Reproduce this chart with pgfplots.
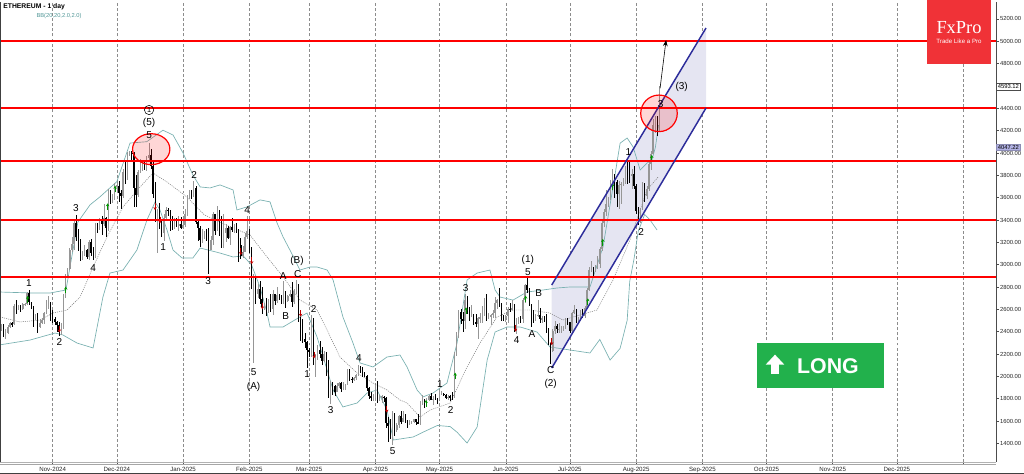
\documentclass[border=0pt]{standalone}
\usepackage{pgfplots}
\pgfplotsset{compat=1.18}
\usepackage{pgfplotstable}
\usepackage{fontspec}
\setmainfont{Liberation Sans}
\newfontfamily\fxserif{Liberation Serif}
\usetikzlibrary{arrows.meta}
\definecolor{bbteal}{RGB}{120,176,176}
\definecolor{bbtext}{RGB}{80,150,150}
\definecolor{chanblue}{RGB}{45,45,155}
\definecolor{chanfill}{RGB}{229,229,242}
\definecolor{fxred}{RGB}{240,50,55}
\definecolor{longgreen}{RGB}{34,177,76}
\definecolor{upgray}{RGB}{150,150,150}
\definecolor{sigreen}{RGB}{0,150,0}
\definecolor{sigred}{RGB}{190,0,0}
\definecolor{tagblue}{RGB}{176,176,226}

\pgfplotstableread{
d o h l c
-24 2440 2470 2410 2440
-23 2440 2465 2350 2370
-22 2370 2420 2330 2385
-21 2385 2460 2380 2438
-20 2438 2485 2430 2476
-19 2476 2490 2440 2468
-18 2468 2650 2460 2630
-17 2630 2685 2555 2605
-16 2605 2640 2590 2612
-15 2612 2635 2580 2604
-14 2604 2660 2595 2645
-13 2645 2660 2630 2648
-12 2648 2755 2640 2745
-11 2745 2770 2640 2665
-10 2665 2670 2600 2622
-9 2622 2630 2440 2525
-8 2525 2560 2505 2535
-7 2535 2570 2390 2440
-6 2440 2510 2430 2480
-5 2480 2520 2465 2507
-4 2507 2580 2470 2567
-3 2567 2680 2560 2640
-2 2640 2720 2600 2658
-1 2658 2670 2500 2518
0 2518 2590 2480 2512
1 2512 2530 2460 2490
2 2490 2500 2400 2457
3 2457 2490 2360 2400
4 2400 2480 2370 2427
5 2427 2740 2420 2722
6 2722 2920 2700 2895
7 2895 2970 2880 2962
8 2962 3150 2950 3127
9 3127 3250 3110 3182
10 3182 3400 3130 3370
11 3370 3445 3210 3245
12 3245 3320 3120 3187
13 3187 3230 3030 3058
14 3058 3120 3040 3091
15 3091 3180 3080 3130
16 3130 3140 3050 3073
17 3073 3220 3040 3205
18 3205 3230 3080 3105
19 3105 3160 3040 3071
20 3071 3370 3060 3355
21 3355 3370 3280 3325
22 3325 3420 3310 3392
23 3392 3440 3270 3362
24 3362 3540 3350 3415
25 3415 3430 3250 3325
26 3325 3680 3300 3650
27 3650 3665 3540 3580
28 3580 3630 3550 3593
29 3593 3730 3580 3704
30 3704 3730 3640 3707
31 3707 3750 3560 3644
32 3644 3670 3500 3618
33 3618 3860 3600 3830
34 3830 3940 3720 3785
35 3785 4010 3760 3995
36 3995 4020 3970 4002
37 4002 4020 3930 3995
38 3995 4010 3520 3688
39 3688 3800 3520 3627
40 3627 3850 3610 3834
41 3834 3950 3820 3880
42 3880 3940 3840 3907
43 3907 3940 3850 3872
44 3872 3970 3840 3959
45 3959 4090 3930 3986
46 3986 4040 3860 3880
47 3880 3920 3600 3630
48 3630 3740 3380 3418
49 3418 3500 3100 3482
50 3482 3550 3320 3330
51 3330 3400 3250 3285
52 3285 3450 3210 3420
53 3420 3520 3400 3490
54 3490 3510 3440 3480
55 3480 3490 3300 3335
56 3335 3440 3310 3332
57 3332 3420 3320 3400
58 3400 3420 3340 3350
59 3350 3440 3300 3360
60 3360 3430 3320 3332
61 3332 3370 3320 3353
62 3353 3500 3340 3452
63 3452 3620 3440 3605
64 3605 3670 3590 3655
65 3655 3670 3590 3634
66 3634 3745 3610 3685
67 3685 3700 3360 3380
68 3380 3410 3210 3328
69 3328 3350 3160 3220
70 3220 3320 3190 3266
71 3266 3300 3230 3282
72 3282 3320 3210 3266
73 3266 3330 2920 3135
74 3135 3260 3130 3222
75 3222 3470 3180 3450
76 3450 3450 3270 3305
77 3305 3525 3300 3470
78 3470 3490 3260 3310
79 3310 3440 3150 3215
80 3215 3450 3150 3283
81 3283 3360 3200 3328
82 3328 3345 3230 3241
83 3241 3350 3180 3339
84 3339 3420 3290 3310
85 3310 3360 3280 3315
86 3315 3370 3280 3310
87 3310 3320 3020 3180
88 3180 3240 3050 3080
89 3080 3170 3060 3115
90 3115 3280 3110 3247
91 3247 3440 3230 3300
92 3300 3320 3100 3128
93 3128 3160 2780 2871
94 2871 2920 2120 2880
95 2880 2880 2650 2733
96 2733 2830 2700 2785
97 2785 2850 2650 2690
98 2690 2800 2560 2620
99 2620 2660 2590 2632
100 2632 2700 2540 2630
101 2630 2690 2570 2660
102 2660 2740 2580 2600
103 2600 2770 2550 2735
104 2735 2740 2640 2675
105 2675 2800 2660 2725
106 2725 2740 2680 2695
107 2695 2730 2650 2660
108 2660 2850 2650 2745
109 2745 2760 2610 2675
110 2675 2730 2670 2715
111 2715 2770 2710 2740
112 2740 2845 2620 2662
113 2662 2780 2650 2765
114 2765 2860 2740 2820
115 2820 2830 2490 2500
116 2500 2530 2320 2490
117 2490 2510 2300 2335
118 2335 2390 2250 2305
119 2305 2320 2075 2238
120 2238 2250 2170 2218
121 2218 2550 2170 2518
122 2518 2525 2100 2150
123 2150 2200 1990 2172
124 2172 2280 2150 2240
125 2240 2320 2160 2200
126 2200 2260 2100 2140
127 2140 2230 2130 2203
128 2203 2220 2000 2020
129 2020 2150 1810 1865
130 1865 1960 1755 1920
131 1920 1950 1830 1910
132 1910 1925 1820 1864
133 1864 1940 1860 1910
134 1910 1950 1900 1940
135 1940 1945 1860 1888
136 1888 1950 1880 1928
137 1928 1935 1880 1932
138 1932 2070 1920 2056
139 2056 2070 1960 1980
140 1980 1990 1940 1965
141 1965 1995 1960 1985
142 1985 2020 1970 2008
143 2008 2105 2000 2080
144 2080 2090 2030 2068
145 2068 2080 1995 2013
146 2013 2040 1990 2003
147 2003 2010 1870 1895
148 1895 1905 1800 1828
149 1828 1860 1780 1805
150 1805 1840 1780 1822
151 1822 1920 1810 1903
152 1903 1955 1760 1795
153 1795 1830 1780 1815
154 1815 1830 1760 1817
155 1817 1820 1770 1806
156 1806 1815 1540 1580
157 1580 1640 1410 1553
158 1553 1620 1440 1472
159 1472 1690 1385 1670
160 1670 1670 1470 1522
161 1522 1580 1505 1568
162 1568 1650 1540 1645
163 1645 1690 1575 1595
164 1595 1690 1590 1625
165 1625 1660 1580 1587
166 1587 1610 1540 1577
167 1577 1610 1565 1583
168 1583 1600 1575 1588
169 1588 1620 1580 1614
170 1614 1620 1565 1587
171 1587 1660 1570 1578
172 1578 1780 1565 1757
173 1757 1830 1745 1796
174 1796 1800 1715 1770
175 1770 1810 1750 1786
176 1786 1830 1780 1820
177 1820 1855 1785 1792
178 1792 1825 1745 1800
179 1800 1840 1790 1798
180 1798 1810 1750 1794
181 1794 1875 1790 1838
182 1838 1865 1830 1843
183 1843 1850 1820 1834
184 1834 1845 1800 1808
185 1808 1830 1790 1818
186 1818 1830 1780 1813
187 1813 1860 1790 1810
188 1810 2220 1805 2208
189 2208 2400 2180 2345
190 2345 2590 2340 2580
191 2580 2600 2470 2515
192 2515 2580 2400 2495
193 2495 2735 2420 2680
194 2680 2720 2560 2610
195 2610 2620 2500 2545
196 2545 2640 2530 2545
197 2545 2560 2460 2485
198 2485 2560 2440 2470
199 2470 2530 2330 2520
200 2520 2570 2480 2525
201 2525 2630 2480 2550
202 2550 2700 2540 2665
203 2665 2735 2500 2525
204 2525 2570 2510 2530
205 2530 2560 2460 2550
206 2550 2590 2520 2565
207 2565 2710 2520 2660
208 2660 2690 2600 2682
209 2682 2790 2620 2632
210 2632 2660 2500 2532
211 2532 2550 2500 2528
212 2528 2545 2490 2540
213 2540 2620 2480 2605
214 2605 2660 2580 2595
215 2595 2680 2590 2608
216 2608 2650 2400 2420
217 2420 2520 2380 2480
218 2480 2530 2470 2525
219 2525 2540 2480 2510
220 2510 2700 2480 2680
221 2680 2830 2660 2815
222 2815 2880 2750 2770
223 2770 2790 2630 2645
224 2645 2650 2440 2575
225 2575 2590 2480 2525
226 2525 2560 2500 2545
227 2545 2680 2530 2550
228 2550 2610 2480 2510
229 2510 2540 2480 2525
230 2525 2540 2490 2520
231 2520 2560 2390 2410
232 2410 2430 2280 2295
233 2295 2300 2110 2230
234 2230 2420 2220 2410
235 2410 2500 2380 2450
236 2450 2470 2390 2420
237 2420 2480 2390 2420
238 2420 2450 2390 2425
239 2425 2450 2410 2440
240 2440 2520 2420 2505
241 2505 2525 2460 2485
242 2485 2490 2390 2410
243 2410 2580 2400 2570
244 2570 2640 2560 2590
245 2590 2600 2480 2505
246 2505 2530 2490 2515
247 2515 2590 2500 2570
248 2570 2600 2520 2540
249 2540 2630 2520 2615
250 2615 2790 2600 2770
251 2770 2980 2760 2955
252 2955 3030 2930 2960
253 2960 2980 2900 2945
254 2945 3000 2930 2970
255 2970 3080 2960 3010
256 3010 3160 2970 3140
257 3140 3390 3120 3375
258 3375 3500 3340 3475
259 3475 3670 3440 3545
260 3545 3610 3520 3590
261 3590 3760 3580 3755
262 3755 3860 3710 3765
263 3765 3810 3600 3740
264 3740 3760 3520 3630
265 3630 3750 3500 3715
266 3715 3740 3540 3725
267 3725 3780 3700 3745
268 3745 3880 3720 3875
269 3875 3940 3720 3795
270 3795 3930 3730 3790
271 3790 3860 3680 3810
272 3810 3880 3680 3700
273 3700 3720 3450 3480
274 3480 3520 3355 3395
275 3395 3510 3370 3495
276 3495 3740 3490 3715
277 3715 3730 3560 3612
278 3612 3700 3590 3680
279 3680 3920 3660 3905
280 3905 4020 3850 3990
281 3990 4300 3990 4255
282 4255 4330 4180 4265
283 4265 4330 4150 4220
284 4220 4600 4190 4590
}\ohlc

\pgfplotstableread{
d p
-24.7 2755
-9.2 2746
-1.3 2746
6.2 2773
11.8 3382
17.5 3536
22.1 3607
30 3743
36.2 4089
44 4101
51.6 4204
56.3 4161
61 4000
65.6 3803
69 3696
73.6 3687
78.3 3714
84.4 3669
86.2 3490
90.9 3517
97 3580
101.7 3562
105 3373
107.8 3248
111 3131
115.7 2952
120.4 2979
123.7 2979
128.4 2952
131.2 2863
135.8 2532
140.5 2299
143.8 2120
149.9 2084
156.4 2173
162.5 2191
165.8 2084
170.5 1878
173.3 1816
178 1851
184.5 1940
189.2 2298
193.9 2863
198.6 2925
204.6 2952
207 2773
209.3 2710
215.4 2683
221.9 2755
229.4 2773
236 2791
242 2800
251.4 2800
257.5 3158
262.2 3696
265.5 4088
268.8 4134
271.6 4053
274.9 3847
278.1 3910
280.4 3937
282 4050
283.5 4250
}\bbup

\pgfplotstableread{
d p
-24.7 2532
-15.3 2487
-5.9 2504
0.1 2567
6.7 2594
12.8 2710
18.9 2979
25.4 3248
32.9 3517
40.9 3696
46.9 3821
53.5 3740
62.8 3606
71 3445
84.4 3328
92.3 3266
100.3 3069
107.8 2890
115.7 2684
123.7 2594
128.4 2415
134.4 2173
142.4 2030
149.9 1940
156.4 1878
162.5 1788
165.8 1761
171.9 1636
176.6 1699
185.9 1760
193.9 2084
200 2299
207.9 2532
215.4 2594
223.3 2594
232.7 2567
238.8 2504
254.7 2594
262.2 2863
270.1 3221
278.1 3669
283.3 3785
}\bbmid

\pgfplotstableread{
d p
-24.7 2282
-10.6 2325
1.1 2388
4.8 2370
11.4 2298
18.9 2254
23.5 2710
26.8 2925
32.9 2952
39.4 3131
44.1 3400
47.9 3561
50.2 3490
53.5 3310
56.3 3131
60.5 3060
65.6 3060
69 3149
78.3 3104
84.4 3069
89.1 3078
93 3000
97 2799
100.3 2567
101.7 2442
107.8 2442
115.7 2532
119 2567
123.7 2352
128.4 2057
131.2 1878
135.8 1726
142.4 1761
147.1 1851
151.8 1878
156.4 1699
159.4 1430
168.7 1457
173.3 1500
180 1560
186 1550
189.2 1500
193.9 1403
198.6 1546
203.3 2146
207 2397
212.6 2442
218.7 2442
226.6 2397
232.7 2263
242 2236
251.4 2209
256 2330
260.8 2146
265.5 2250
268.8 2500
270 2850
272 3050
274 3300
277 3450
279.5 3400
282.8 3310
}\bblow

\pgfplotstableread{
d p
-11.7 2690
6.1 2773
25.7 3519
29.2 3677
174.7 1758
188.3 2003
193.4 2588
221.3 2692
250.4 2668
257.4 3200
262 3698
280.3 3952
}\sigup

\pgfplotstableread{
d p
3.1 2424
47.9 3519
50.2 3400
88 3116
93.1 3035
98.1 2630
116 2564
122.3 2191
156.3 1705
216.6 2430
233.5 2310
}\sigdn

\begin{document}
\begin{tikzpicture}
\path[use as bounding box] (0pt,0pt) rectangle (768pt,355.5pt);
\begin{axis}[
  at={(0pt,9pt)}, anchor=south west,
  width=747pt, height=345pt, scale only axis,
  xmin=-24.66, xmax=441.4, ymin=1233, ymax=5352,
  clip=false,
  axis line style={draw=none},
  xtick={0,30,61,92,120,151,181,212,242,273,304,334,365,395,426},
  xticklabels={Nov-2024,Dec-2024,Jan-2025,Feb-2025,Mar-2025,Apr-2025,May-2025,Jun-2025,Jul-2025,Aug-2025,Sep-2025,Oct-2025,Nov-2025,Dec-2025,{}},
  xtick pos=bottom, ytick pos=right, yticklabel pos=right,
  tick align=outside,
  xmajorgrids,
  grid style={black!45, line width=0.4pt, dash pattern=on 2.2pt off 1.6pt},
  ytick={1400,1600,1800,2000,2200,2400,2600,2800,3000,3200,3400,3600,3800,4000,4200,4400,4800,5000,5200},
  extra y ticks={4600}, extra y tick labels={},
  minor y tick num=3,
  major tick length=2.2pt, minor tick length=1.1pt,
  tick style={black!70, line width=0.4pt},
  xticklabel style={font=\fontsize{4.6}{5}\selectfont, text=black!85, anchor=north, inner sep=0pt, yshift=-1.3pt},
  yticklabel style={font=\fontsize{4.4}{5}\selectfont, text=black!85, anchor=west, inner sep=0pt, xshift=0.6pt,
    /pgf/number format/.cd, fixed, fixed zerofill, precision=2, 1000 sep={}},
  /pgf/number format/assume math mode=true,
  scaled y ticks=false,
]
% channel shading
\addplot[fill=chanfill, draw=none] coordinates {(233.5,2818) (305.7,5119) (305.7,4403) (233.5,2074)} -- cycle;

% Bollinger bands
\addplot[bbteal, line width=0.5pt] table[x=d,y=p] {\bbup};
\addplot[bbteal, line width=0.5pt] table[x=d,y=p] {\bblow};
\addplot[black!55, line width=0.35pt, dash pattern=on 0.8pt off 0.8pt] table[x=d,y=p] {\bbmid};

% up candles: wick and body
\addplot[draw=none, no marks, restrict expr to domain={\thisrow{c}-\thisrow{o}}{0:100000},
  error bars/.cd, y dir=both, y explicit, error mark=none,
  error bar style={draw=upgray, line width=0.45pt}]
  table[x=d, y expr=(\thisrow{h}+\thisrow{l})/2, y error expr=(\thisrow{h}-\thisrow{l})/2] {\ohlc};
\addplot[draw=none, no marks, restrict expr to domain={\thisrow{c}-\thisrow{o}}{0:100000},
  error bars/.cd, y dir=both, y explicit, error mark=none,
  error bar style={draw=upgray, line width=1.1pt}]
  table[x=d, y expr=(\thisrow{o}+\thisrow{c})/2, y error expr={max(abs(\thisrow{o}-\thisrow{c})/2,5)}] {\ohlc};
% down candles
\addplot[draw=none, no marks, restrict expr to domain={\thisrow{c}-\thisrow{o}}{-100000:-0.5},
  error bars/.cd, y dir=both, y explicit, error mark=none,
  error bar style={draw=black, line width=0.45pt}]
  table[x=d, y expr=(\thisrow{h}+\thisrow{l})/2, y error expr=(\thisrow{h}-\thisrow{l})/2] {\ohlc};
\addplot[draw=none, no marks, restrict expr to domain={\thisrow{c}-\thisrow{o}}{-100000:-0.5},
  error bars/.cd, y dir=both, y explicit, error mark=none,
  error bar style={draw=black, line width=1.1pt}]
  table[x=d, y expr=(\thisrow{o}+\thisrow{c})/2, y error expr={max(abs(\thisrow{o}-\thisrow{c})/2,5)}] {\ohlc};

% signal arrows
\addplot[sigreen, line width=0.6pt, -{Stealth[length=2.2pt,width=2.6pt]}, quiver={u=0,v=60}]
  table[x=d, y expr=\thisrow{p}-30] {\sigup};
\addplot[sigred, line width=0.6pt, -{Stealth[length=2.2pt,width=2.6pt]}, quiver={u=0,v=-60}]
  table[x=d, y expr=\thisrow{p}+30] {\sigdn};

% horizontal levels
\addplot[red, line width=1.3pt] coordinates {(-24.66,5000) (441.4,5000)};
\addplot[red, line width=1.3pt] coordinates {(-24.66,4400) (441.4,4400)};
\addplot[red, line width=1.3pt] coordinates {(-24.66,3928) (441.4,3928)};
\addplot[red, line width=1.3pt] coordinates {(-24.66,3400) (441.4,3400)};
\addplot[red, line width=1.3pt] coordinates {(-24.66,2892) (441.4,2892)};

% channel lines
\addplot[chanblue, line width=1.1pt] coordinates {(233.5,2818) (305.7,5119)};
\addplot[chanblue, line width=1.1pt] coordinates {(233.5,2074) (305.7,4403)};

% projection arrow
\addplot[black, line width=0.45pt, -{Stealth[length=4.5pt,width=3.5pt]}] coordinates {(284.2,4579) (287,5010)};

% circles
\draw[red, line width=0.9pt, fill=red, fill opacity=0.16] (axis cs:46.1,4034) ellipse [x radius=14pt, y radius=11.6pt];
\draw[red, line width=0.9pt, fill=red, fill opacity=0.16] (axis cs:283.7,4355) ellipse [x radius=13.7pt, y radius=13.7pt];

% wave labels
\begin{scope}[every node/.style={font=\fontsize{7.5}{8}\selectfont, inner sep=0pt}]
\node at (axis cs:-11.1,2833) {1};
\node at (axis cs:3.1,2310) {2};
\node at (axis cs:10.9,3505) {3};
\node at (axis cs:18.9,2967) {4};
\node at (axis cs:45.1,4161) {5};
\node at (axis cs:45.1,4271) {(5)};
\node[circle, draw, line width=0.4pt, minimum size=7pt, inner sep=0pt, font=\fontsize{5.5}{6}\selectfont] at (axis cs:45.1,4385) {1};
\node at (axis cs:51.7,3161) {1};
\node at (axis cs:66.2,3803) {2};
\node at (axis cs:72.7,2856) {3};
\node at (axis cs:91,3489) {4};
\node at (axis cs:94,2036) {5};
\node at (axis cs:94,1907) {(A)};
\node at (axis cs:107.9,2898) {A};
\node at (axis cs:109,2543) {B};
\node at (axis cs:114.3,3035) {(B)};
\node at (axis cs:114.6,2916) {C};
\node at (axis cs:122.1,2600) {2};
\node at (axis cs:119.1,2021) {1};
\node at (axis cs:130.1,1698) {3};
\node at (axis cs:143.3,2161) {4};
\node at (axis cs:159.1,1330) {5};
\node at (axis cs:181.2,1931) {1};
\node at (axis cs:186.2,1698) {2};
\node at (axis cs:193.2,2788) {3};
\node at (axis cs:222.3,2937) {5};
\node at (axis cs:222.3,3045) {(1)};
\node at (axis cs:217.1,2325) {4};
\node at (axis cs:224.3,2379) {A};
\node at (axis cs:227.4,2743) {B};
\node at (axis cs:233,2057) {C};
\node at (axis cs:233,1931) {(2)};
\node at (axis cs:269.4,4011) {1};
\node at (axis cs:275.3,3295) {2};
\node at (axis cs:284.5,4439) {3};
\node at (axis cs:294.3,4588) {(3)};
\end{scope}

\coordinate (tagA) at (axis cs:441.4,4593);
\coordinate (tagB) at (axis cs:441.4,4050);

% frame lines
\draw[black!70, line width=0.6pt] (rel axis cs:1,0) -- (rel axis cs:1,1);
\draw[black!75, line width=0.8pt] (rel axis cs:0,0) -- (rel axis cs:0,1);
\draw[black!30, line width=0.6pt] (rel axis cs:0,0) -- (rel axis cs:1,0);
\end{axis}

% price tags on right axis (drawn over the tick labels)
\node[anchor=west, draw=black!70, fill=white, inner sep=0.8pt, font=\fontsize{4.4}{5}\selectfont, xshift=0.3pt] at (tagA) {4593.12};
\node[anchor=west, draw=tagblue!80!black, fill=tagblue, inner sep=0.8pt, font=\fontsize{4.4}{5}\selectfont, xshift=0.3pt] at (tagB) {4047.22};

% date strip lines and outer frame
\draw[black!35, line width=0.5pt] (0pt,7.1pt) -- (747pt,7.1pt);
\draw[black!75, line width=0.8pt] (0pt,0.4pt) -- (768pt,0.4pt);

% title
\node[anchor=west, inner sep=0pt, font=\bfseries\fontsize{5.1}{6}\selectfont] at (2.3pt,350.3pt) {ETHEREUM - 1 day};
\node[inner sep=0pt, text=bbtext, font=\fontsize{4.3}{5}\selectfont] at (44.3pt,343.5pt) {BB(20,20,2.0,2.0)};

% FxPro logo
\fill[fxred] (695.5pt,307.5pt) rectangle (743pt,355.5pt);
\node[text=white, inner sep=0pt, font=\fxserif\fontsize{13.8}{14}\selectfont] at (719.25pt,334.5pt) {FxPro};
\node[text=white, inner sep=0pt, font=\fontsize{4.6}{5}\selectfont] at (719.25pt,324.6pt) {Trade Like a Pro};

% LONG box
\fill[longgreen] (568pt,64.7pt) rectangle (663.2pt,98pt);
\fill[white] (574.25pt,82pt) -- (581.25pt,89.5pt) -- (588.25pt,82pt) -- cycle;
\fill[white] (577.9pt,75pt) rectangle (584.6pt,82.2pt);
\node[text=white, inner sep=0pt, font=\bfseries\fontsize{16}{17}\selectfont] at (621pt,81.2pt) {LONG};
\end{tikzpicture}
\end{document}
